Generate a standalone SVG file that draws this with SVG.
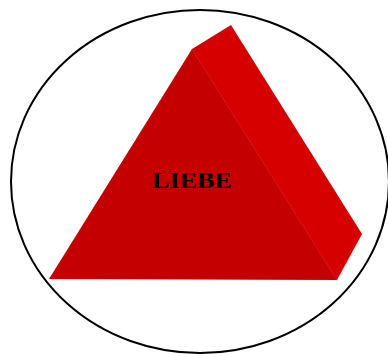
<svg xmlns="http://www.w3.org/2000/svg" width="388" height="354" viewBox="0 0 388 354">
<style>
.front{fill:#c40000}
.side{fill:#d60000}
.lbl{font-family:"Liberation Serif","Times New Roman",serif;font-weight:bold;font-size:23px;fill:#000}
</style>
<rect width="388" height="354" fill="#fff"/>
<g id="circle">
<ellipse cx="200" cy="181.5" rx="189" ry="171.5" fill="none" stroke="#000" stroke-width="2"/>
</g>
<g id="triangle">
<polygon class="side" points="192,49 231,25 362,234 337,280"/>
<polygon class="front" points="49,279 192,49 337,280"/>
<line x1="192" y1="49" x2="337" y2="280" stroke="#d80a0a" stroke-width="1"/>
<text class="lbl" x="152" y="188" textLength="80" lengthAdjust="spacingAndGlyphs">LIEBE</text>
</g>
</svg>
